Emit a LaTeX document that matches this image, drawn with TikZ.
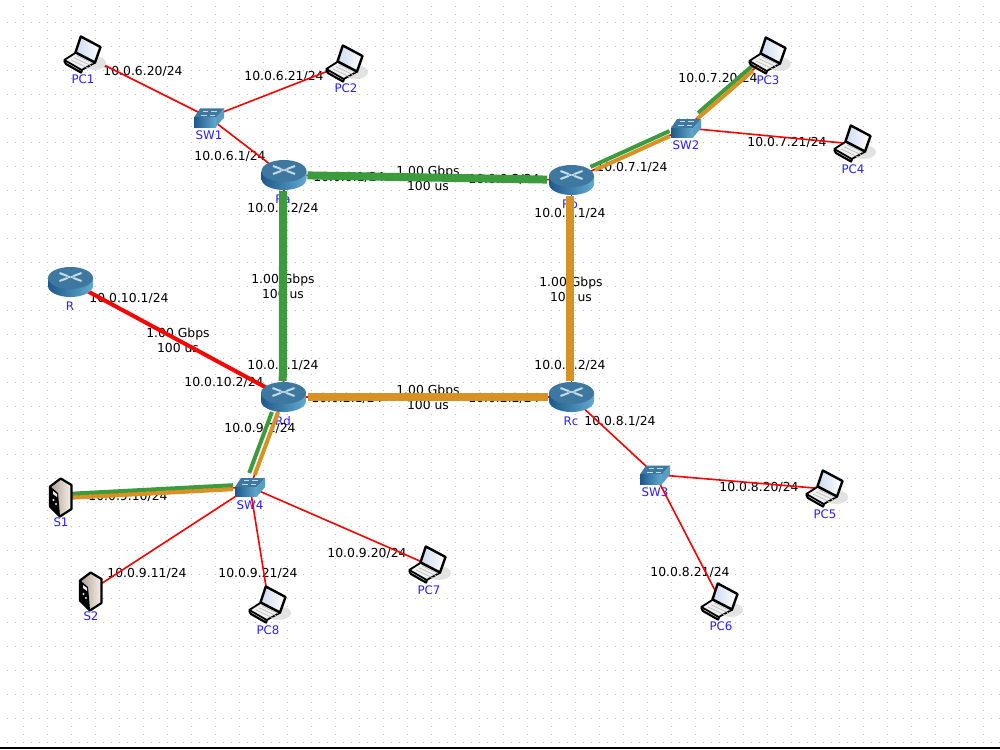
\documentclass[tikz,border=0pt]{standalone}
\usepackage{fontspec}
\setmainfont{DejaVu Sans}
\definecolor{lgreen}{RGB}{60,155,60}
\definecolor{lorange}{RGB}{214,146,36}
\definecolor{namecol}{RGB}{40,30,255}
\definecolor{griddot}{RGB}{190,190,190}
\definecolor{topblue}{RGB}{62,120,160}
\definecolor{darkblue}{RGB}{30,88,138}
\definecolor{lightblue}{RGB}{98,170,206}
\definecolor{crosscol}{RGB}{196,220,232}
\definecolor{shadowcol}{RGB}{226,226,226}
\definecolor{screencol}{RGB}{205,218,240}
\tikzset{
  iface/.style={inner sep=0pt,font=\fontsize{12.4}{14}\selectfont,text=black},
  linklabel/.style={inner sep=0pt,align=center,font=\fontsize{12.4}{15}\selectfont,text=black},
  devname/.style={inner sep=0pt,font=\fontsize{11.8}{13}\selectfont,text=namecol},
  hub/.style={coordinate},
  thin link/.style={draw=red,line width=1.6pt},
  gw link/.style={draw=red,line width=4pt},
  green trunk/.style={draw=lgreen,line width=8pt},
  orange trunk/.style={draw=lorange,line width=8pt},
  green stripe/.style={draw=lgreen,line width=4pt},
  orange stripe/.style={draw=lorange,line width=4pt},
  griddots/.style={draw=griddot,line width=1pt,dash pattern=on 1pt off 7pt},
  pics/routericon/.style={code={
    \path[left color=darkblue,right color=lightblue]
      (-22.5,-4) -- (-22.5,4) arc[start angle=180,end angle=360,x radius=22.5,y radius=-11] -- (22.5,-4) -- cycle;
    \fill[topblue] (0,-4) ellipse[x radius=22.5,y radius=11];
    \draw[crosscol,line width=2pt] (-11,-9)--(-3,-6) (11,-9)--(3,-6) (-11,-1)--(-3,-4) (11,-1)--(3,-4);
    \draw[crosscol,line width=1pt] (-4,-6.5)--(4,-3.5) (4,-6.5)--(-4,-3.5);
  }},
  pics/switchicon/.style={code={
    \fill[topblue] (-9,-9) -- (15,-9) -- (7,0) -- (-15,0) -- cycle;
    \fill[lightblue!85!darkblue] (15,-9) -- (15,0) -- (7,9.5) -- (7,0) -- cycle;
    \path[left color=darkblue,right color=lightblue] (-15,0) rectangle (7,9.5);
    \draw[crosscol,line width=0.9pt] (-6,-6.5)--(-1,-6.5) (2,-6.5)--(8,-6.5) (-8,-2.5)--(-2,-2.5) (1,-2.5)--(6,-2.5);
  }},
  pics/laptopicon/.style={code={
    \fill[shadowcol] (10,8) ellipse[x radius=12,y radius=7];
    \filldraw[draw=black,line width=1.8pt,line join=round,fill=white!94!black]
      (-19.7,5) -- (-8.3,-2.3) -- (11,7.7) -- (-2.3,15) -- cycle;
    \draw[black,line width=2.2pt,line join=round] (-19.7,6) -- (-18,9) -- (-3,17.5) -- (-2,15);
    \filldraw[draw=black,line width=2.4pt,line join=round,left color=screencol,right color=white]
      (-3.2,-18.5) -- (16.5,-8) -- (11,7.5) -- (-8.5,-2.7) -- cycle;
    \draw[gray!50,line width=0.7pt] (-13,5)--(4,13) (-10,2.8)--(7,10.6) (-7,0.8)--(9,8.4);
  }},
  pics/servericon/.style={code={
    \filldraw[draw=black,line width=2.2pt,line join=round,left color=white!55!brown!45!gray,right color=white!88!brown]
      (0.7,-18.5) -- (11.5,-12) -- (11.5,12) -- (0,19.5) -- (-10,9.5) -- (-10,-10.5) -- cycle;
    \fill[black] (-9,-10) -- (-2,-4) -- (0,19) -- (-9,9) -- cycle;
    \fill[white!85!gray] (-7,-6) -- (-3,-3) -- (-3,0) -- (-7,-3) -- cycle;
    \fill[white!85!gray] (-6.5,3) circle[radius=1.2] (-4,7) circle[radius=1.2];
  }},
}
\begin{document}
\begin{tikzpicture}[x=1pt,y=-1pt]
\path[use as bounding box,fill=white] (0,0) rectangle (1000,749);
% grid
\foreach \j in {0,...,30} {\draw[griddots] (-1,22.5+24*\j) -- (1000,22.5+24*\j);}
\foreach \i in {0,...,40} {\draw[griddots] (23.5+24*\i,-2) -- (23.5+24*\i,747);}
\fill[black] (0,747.4) rectangle (1000,749);
% anchors of devices
\node[hub] (Ra) at (284,175) {};
\node[hub] (Rb) at (571.5,180) {};
\node[hub] (Rc) at (571.5,397) {};
\node[hub] (Rd) at (283.5,397) {};
\node[hub] (R) at (70.5,282) {};
\node[hub] (SW1) at (209,117.5) {};
\node[hub] (SW2) at (686,128) {};
\node[hub] (SW3) at (655,474.5) {};
\node[hub] (SW4) at (250,487) {};
\node[hub] (PC1) at (84,55) {};
\node[hub] (PC2) at (346,64) {};
\node[hub] (PC3) at (769,56) {};
\node[hub] (PC4) at (854,144) {};
\node[hub] (PC5) at (826,489) {};
\node[hub] (PC6) at (721,602) {};
\node[hub] (PC7) at (429,565) {};
\node[hub] (PC8) at (269,605) {};
\node[hub] (S1) at (60,497) {};
\node[hub] (S2) at (90,591) {};
% device names
\node[devname] (nPC1) at (83,79.5) {PC1};
\node[devname] (nPC2) at (346,88.5) {PC2};
\node[devname] (nPC3) at (768,80.5) {PC3};
\node[devname] (nPC4) at (853,169) {PC4};
\node[devname] (nPC5) at (825,514) {PC5};
\node[devname] (nPC6) at (721,626.5) {PC6};
\node[devname] (nPC7) at (429,590) {PC7};
\node[devname] (nPC8) at (268,630) {PC8};
\node[devname] (nS1) at (61,522) {S1};
\node[devname] (nS2) at (91,616) {S2};
\node[devname] (nSW1) at (209,135) {SW1};
\node[devname] (nSW2) at (686,145.5) {SW2};
\node[devname] (nSW3) at (655,492) {SW3};
\node[devname] (nSW4) at (250,505) {SW4};
\node[devname] (nRa) at (283,199.5) {Ra};
\node[devname] (nRb) at (570,204.5) {Rb};
\node[devname] (nRc) at (571,421.5) {Rc};
\node[devname] (nRd) at (283,421.5) {Rd};
\node[devname] (nR) at (70,306.5) {R};
% interface labels
\node[iface] (i1) at (143,71) {10.0.6.20/24};
\node[iface] (i2) at (284,76.5) {10.0.6.21/24};
\node[iface] (i3) at (230,156) {10.0.6.1/24};
\node[iface] (i4) at (283,208.5) {10.0.3.2/24};
\node[iface] (i5) at (349,177.5) {10.0.0.1/24};
\node[iface] (i6) at (504,179.5) {10.0.0.2/24};
\node[iface] (i7) at (632,167) {10.0.7.1/24};
\node[iface] (i8) at (718,78.5) {10.0.7.20/24};
\node[iface] (i9) at (787,142) {10.0.7.21/24};
\node[iface] (i10) at (570,213.5) {10.0.1.1/24};
\node[iface] (i11) at (570,365) {10.0.1.2/24};
\node[iface] (i12) at (283,365) {10.0.3.1/24};
\node[iface] (i13) at (129,298) {10.0.10.1/24};
\node[iface] (i14) at (224,382) {10.0.10.2/24};
\node[iface] (i15) at (260,428.5) {10.0.9.1/24};
\node[iface] (i16) at (128,496) {10.0.9.10/24};
\node[iface] (i17) at (147,573.5) {10.0.9.11/24};
\node[iface] (i18) at (258,573) {10.0.9.21/24};
\node[iface] (i19) at (367,553) {10.0.9.20/24};
\node[iface] (i20) at (620,421) {10.0.8.1/24};
\node[iface] (i21) at (759,487) {10.0.8.20/24};
\node[iface] (i22) at (690,572.5) {10.0.8.21/24};
\node[iface] (i23) at (347,398) {10.0.2.1/24};
\node[iface] (i24) at (504,398) {10.0.2.2/24};
% link labels
\node[linklabel] (l1) at (428,178) {1.00 Gbps\\100 us};
\node[linklabel] (l2) at (283,286.5) {1.00 Gbps\\100 us};
\node[linklabel] (l3) at (571,289.5) {1.00 Gbps\\100 us};
\node[linklabel] (l4) at (428,397.5) {1.00 Gbps\\100 us};
\node[linklabel] (l5) at (178,340.5) {1.00 Gbps\\100 us};
% thin connectors
\draw[thin link] (PC1) -- (SW1);
\draw[thin link] (PC2) -- (SW1);
\draw[thin link] (SW1) -- (Ra);
\draw[thin link] (PC3) -- (SW2);
\draw[thin link] (PC4) -- (SW2);
\draw[thin link] (SW2) -- (Rb);
\draw[thin link] (Ra) -- (Rb);
\draw[thin link] (Ra) -- (Rd);
\draw[thin link] (Rb) -- (Rc);
\draw[thin link] (Rc) -- (Rd);
\draw[thin link] (Rc) -- (SW3);
\draw[thin link] (SW3) -- (PC5);
\draw[thin link] (SW3) -- (PC6);
\draw[thin link] (Rd) -- (SW4);
\draw[thin link] (SW4) -- (S1);
\draw[thin link] (SW4) -- (S2);
\draw[thin link] (SW4) -- (PC7);
\draw[thin link] (SW4) -- (PC8);
\draw[gw link] (R) -- (Rd);
% thick trunks
\draw[green trunk,shorten <=23.5pt,shorten >=24.5pt] (Ra) -- (Rb);
\draw[green trunk,transform canvas={xshift=-0.8pt},shorten <=16pt,shorten >=16pt] (Ra) -- (Rd);
\draw[orange trunk,transform canvas={xshift=-1.3pt},shorten <=16pt,shorten >=16pt] (Rb) -- (Rc);
\draw[orange trunk,shorten <=24pt,shorten >=24pt] (Rd) -- (Rc);
% striped links: explicit pt shifts have y pointing up
\draw[green stripe,transform canvas={shift={(-1pt,4pt)}},shorten <=22pt,shorten >=17pt] (Rb) -- (SW2);
\draw[orange stripe,transform canvas={shift={(0pt,-0.7pt)}},shorten <=26pt,shorten >=18pt] (Rb) -- (SW2);
\draw[green stripe,transform canvas={shift={(0pt,4.6pt)}},shorten <=16pt,shorten >=21pt] (SW2) -- (PC3);
\draw[orange stripe,transform canvas={shift={(0pt,-0.6pt)}},shorten <=15pt,shorten >=21.5pt] (SW2) -- (PC3);
\draw[green stripe,transform canvas={shift={(0pt,2.7pt)}},shorten <=17pt,shorten >=12pt] (SW4) -- (S1);
\draw[orange stripe,transform canvas={shift={(0pt,-1.3pt)}},shorten <=17pt,shorten >=12pt] (SW4) -- (S1);
\draw[green stripe,transform canvas={shift={(-6pt,0pt)}},shorten <=16pt,shorten >=15pt] (Rd) -- (SW4);
\draw[orange stripe,transform canvas={shift={(0.2pt,0pt)}},shorten <=16pt,shorten >=13pt] (Rd) -- (SW4);
% icons
\pic at (Ra) {routericon};
\pic at (Rb) {routericon};
\pic at (Rc) {routericon};
\pic at (Rd) {routericon};
\pic at (R) {routericon};
\pic at (SW1) {switchicon};
\pic at (SW2) {switchicon};
\pic at (SW3) {switchicon};
\pic at (SW4) {switchicon};
\pic at (PC1) {laptopicon};
\pic at (PC2) {laptopicon};
\pic at (PC3) {laptopicon};
\pic at (PC4) {laptopicon};
\pic at (PC5) {laptopicon};
\pic at (PC6) {laptopicon};
\pic at (PC7) {laptopicon};
\pic at (PC8) {laptopicon};
\pic at (S1) {servericon};
\pic at (S2) {servericon};
\end{tikzpicture}
\end{document}
